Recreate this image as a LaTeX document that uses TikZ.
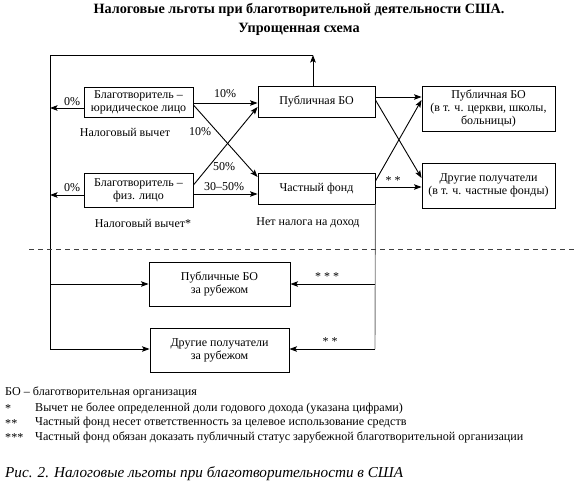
\documentclass[tikz,border=0pt]{standalone}
\usepackage{fontspec}
\setmainfont{Liberation Serif}
\usetikzlibrary{arrows.meta}
\tikzset{
  box/.style={draw, line width=0.9pt, fill=white, align=center, inner sep=0pt, font=\fontsize{12}{13}\selectfont},
  arr/.style={line width=0.9pt, -{Stealth[length=7.5pt,width=5.5pt,inset=1.5pt]}},
  ln/.style={line width=0.9pt},
  lbl/.style={font=\fontsize{12}{13}\selectfont, inner sep=0pt},
  leg/.style={font=\fontsize{12.1}{14}\selectfont, inner sep=0pt, anchor=west},
}
\begin{document}
\begin{tikzpicture}[x=1pt,y=-1pt]
\useasboundingbox (0,0) rectangle (575,485);
% title
\node[font=\bfseries\fontsize{14.2}{18.5}\selectfont, align=center] (title) at (299,19.5) {Налоговые льготы при благотворительной деятельности США.\\Упрощенная схема};
% boxes
\node[box, minimum width=109pt, minimum height=30pt] (yur) at (138.5,102) {Благотворитель –\\юридическое лицо};
\node[box, minimum width=109pt, minimum height=34pt] (fiz) at (138.5,190) {Благотворитель –\\физ. лицо};
\node[box, minimum width=117pt, minimum height=31pt] (pub) at (316.5,101.5) {Публичная БО};
\node[box, minimum width=117pt, minimum height=31pt] (chast) at (316.5,188.5) {Частный фонд};
\node[box, minimum width=133pt, minimum height=45pt] (pubR) at (488.5,108.5) {Публичная БО\\(в т. ч. церкви, школы,\\больницы)};
\node[box, minimum width=133pt, minimum height=45pt] (drugR) at (488.5,185.5) {Другие получатели\\(в т. ч. частные фонды)};
\node[box, minimum width=141pt, minimum height=44pt] (pubZ) at (219.5,284) {Публичные БО\\за рубежом};
\node[box, minimum width=139pt, minimum height=44pt] (drugZ) at (219.5,350) {Другие получатели\\за рубежом};
% coordinates
\coordinate (tl) at (50,55);
\coordinate (tr) at (313,55);
\coordinate (l1) at (50,284);
\coordinate (l2) at (50,349);
\coordinate (r1) at (375,284);
\coordinate (r2) at (375,349);
\coordinate (d1) at (29,249);
\coordinate (d2) at (575,249);
% outer loop
\draw[ln] (l2) -- (tl) -- (tr);
\draw[arr] (pub.north -| tr) -- (tr);
\draw[arr] (yur.west |- 0,108) -- (50,108);
\draw[arr] (fiz.west |- 0,195) -- (50,195);
\draw[arr] (l1) -- (pubZ.west |- l1);
\draw[arr] (l2) -- (drugZ.west |- l2);
% main flows
\draw[arr] (yur.east |- 0,103) -- (pub.west |- 0,103);
\draw[arr] (fiz.east |- 0,194) -- (chast.west |- 0,194);
\draw[arr] (yur.east |- 0,105) -- (chast.west |- 0,177);
\draw[arr] (fiz.east |- 0,185) -- (pub.west |- 0,107);
\draw[arr] (pub.east |- 0,97) -- (pubR.west |- 0,97);
\draw[arr] (chast.east |- 0,187) -- (drugR.west |- 0,187);
\draw[arr] (pub.east |- 0,100) -- (drugR.west |- 0,178);
\draw[arr] (chast.east |- 0,181) -- (pubR.west |- 0,100);
% abroad
\draw[ln, black!55] (chast.south east) -- (r2);
\draw[arr] (r1) -- (pubZ.east |- r1);
\draw[arr] (r2) -- (drugZ.east |- r2);
% dashed separator
\draw[line width=1pt, black!75, dash pattern=on 5pt off 4pt] (d1) -- (d2);
% labels
\node[lbl] (p0a) at (72,102) {0\%};
\node[lbl] (p0b) at (72,188) {0\%};
\node[lbl] (p10a) at (225,94) {10\%};
\node[lbl] (nv1) at (125,132) {Налоговый вычет};
\node[lbl] (p10b) at (200,132) {10\%};
\node[lbl] (p50) at (224,167) {50\%};
\node[lbl] (p3050) at (224,187) {30–50\%};
\node[lbl] (nv2) at (143,223) {Налоговый вычет*};
\node[lbl] (nn) at (308,223) {Нет налога на доход};
\node[lbl] (s2a) at (393,181) {* *};
\node[lbl] (s3) at (327,277) {* * *};
\node[lbl] (s2b) at (330,342) {* *};
% legend
\node[leg] (lg0) at (5,392) {БО – благотворительная организация};
\node[leg] (lg1a) at (5,409) {*};
\node[leg] (lg1) at (35,408) {Вычет не более определенной доли годового дохода (указана цифрами)};
\node[leg] (lg2a) at (5,424) {**};
\node[leg] (lg2) at (35,423) {Частный фонд несет ответственность за целевое использование средств};
\node[leg] (lg3a) at (5,438) {***};
\node[leg] (lg3) at (35,437) {Частный фонд обязан доказать публичный статус зарубежной благотворительной организации};
\node[anchor=west, inner sep=0pt, font=\itshape\fontsize{15.2}{17}\selectfont] (cap) at (5,474) {Рис. 2. Налоговые льготы при благотворительности в США};
\end{tikzpicture}
\end{document}
